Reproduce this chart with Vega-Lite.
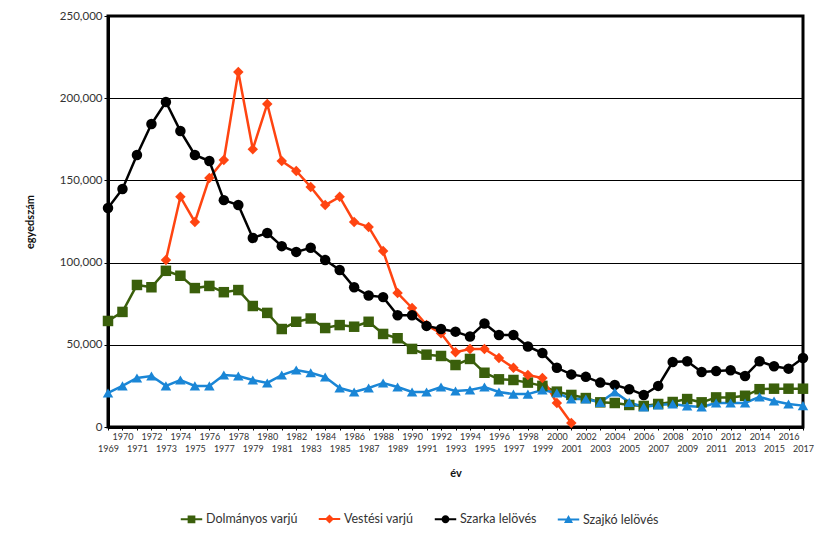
{
  "$schema": "https://vega.github.io/schema/vega-lite/v6.json",
  "width": 695,
  "height": 411,
  "autosize": {"type": "none"},
  "padding": {"left": 108, "top": 16, "right": 18, "bottom": 106},
  "background": "white",
  "config": {
    "view": {"stroke": "black", "strokeWidth": 3},
    "font": "Lato",
    "axis": {"labelFont": "Lato", "titleFont": "Lato", "labelColor": "#333333", "titleColor": "#111111"}
  },
  "data": {"values": [
    {"year":1969,"series":"Dolmányos varjú","value":64500},
    {"year":1970,"series":"Dolmányos varjú","value":70000},
    {"year":1971,"series":"Dolmányos varjú","value":86400},
    {"year":1972,"series":"Dolmányos varjú","value":85000},
    {"year":1973,"series":"Dolmányos varjú","value":95000},
    {"year":1974,"series":"Dolmányos varjú","value":92000},
    {"year":1975,"series":"Dolmányos varjú","value":84500},
    {"year":1976,"series":"Dolmányos varjú","value":85800},
    {"year":1977,"series":"Dolmányos varjú","value":82000},
    {"year":1978,"series":"Dolmányos varjú","value":83300},
    {"year":1979,"series":"Dolmányos varjú","value":73600},
    {"year":1980,"series":"Dolmányos varjú","value":69400},
    {"year":1981,"series":"Dolmányos varjú","value":59600},
    {"year":1982,"series":"Dolmányos varjú","value":64000},
    {"year":1983,"series":"Dolmányos varjú","value":66000},
    {"year":1984,"series":"Dolmányos varjú","value":60200},
    {"year":1985,"series":"Dolmányos varjú","value":62000},
    {"year":1986,"series":"Dolmányos varjú","value":61000},
    {"year":1987,"series":"Dolmányos varjú","value":64000},
    {"year":1988,"series":"Dolmányos varjú","value":56600},
    {"year":1989,"series":"Dolmányos varjú","value":54000},
    {"year":1990,"series":"Dolmányos varjú","value":47500},
    {"year":1991,"series":"Dolmányos varjú","value":44000},
    {"year":1992,"series":"Dolmányos varjú","value":43200},
    {"year":1993,"series":"Dolmányos varjú","value":37700},
    {"year":1994,"series":"Dolmányos varjú","value":41400},
    {"year":1995,"series":"Dolmányos varjú","value":33000},
    {"year":1996,"series":"Dolmányos varjú","value":29000},
    {"year":1997,"series":"Dolmányos varjú","value":28600},
    {"year":1998,"series":"Dolmányos varjú","value":27000},
    {"year":1999,"series":"Dolmányos varjú","value":25000},
    {"year":2000,"series":"Dolmányos varjú","value":21500},
    {"year":2001,"series":"Dolmányos varjú","value":19500},
    {"year":2002,"series":"Dolmányos varjú","value":17600},
    {"year":2003,"series":"Dolmányos varjú","value":15000},
    {"year":2004,"series":"Dolmányos varjú","value":14600},
    {"year":2005,"series":"Dolmányos varjú","value":13400},
    {"year":2006,"series":"Dolmányos varjú","value":12800},
    {"year":2007,"series":"Dolmányos varjú","value":14000},
    {"year":2008,"series":"Dolmányos varjú","value":15200},
    {"year":2009,"series":"Dolmányos varjú","value":17000},
    {"year":2010,"series":"Dolmányos varjú","value":15000},
    {"year":2011,"series":"Dolmányos varjú","value":18000},
    {"year":2012,"series":"Dolmányos varjú","value":18000},
    {"year":2013,"series":"Dolmányos varjú","value":19000},
    {"year":2014,"series":"Dolmányos varjú","value":23000},
    {"year":2015,"series":"Dolmányos varjú","value":23300},
    {"year":2016,"series":"Dolmányos varjú","value":23300},
    {"year":2017,"series":"Dolmányos varjú","value":23300},
    {"year":1973,"series":"Vestési varjú","value":101600},
    {"year":1974,"series":"Vestési varjú","value":140000},
    {"year":1975,"series":"Vestési varjú","value":124700},
    {"year":1976,"series":"Vestési varjú","value":151500},
    {"year":1977,"series":"Vestési varjú","value":162400},
    {"year":1978,"series":"Vestési varjú","value":216000},
    {"year":1979,"series":"Vestési varjú","value":169000},
    {"year":1980,"series":"Vestési varjú","value":196500},
    {"year":1981,"series":"Vestési varjú","value":161800},
    {"year":1982,"series":"Vestési varjú","value":155700},
    {"year":1983,"series":"Vestési varjú","value":146000},
    {"year":1984,"series":"Vestési varjú","value":135000},
    {"year":1985,"series":"Vestési varjú","value":140000},
    {"year":1986,"series":"Vestési varjú","value":124700},
    {"year":1987,"series":"Vestési varjú","value":121700},
    {"year":1988,"series":"Vestési varjú","value":107000},
    {"year":1989,"series":"Vestési varjú","value":81500},
    {"year":1990,"series":"Vestési varjú","value":72400},
    {"year":1991,"series":"Vestési varjú","value":62000},
    {"year":1992,"series":"Vestési varjú","value":57000},
    {"year":1993,"series":"Vestési varjú","value":45500},
    {"year":1994,"series":"Vestési varjú","value":47500},
    {"year":1995,"series":"Vestési varjú","value":47500},
    {"year":1996,"series":"Vestési varjú","value":42000},
    {"year":1997,"series":"Vestési varjú","value":36000},
    {"year":1998,"series":"Vestési varjú","value":31600},
    {"year":1999,"series":"Vestési varjú","value":29800},
    {"year":2000,"series":"Vestési varjú","value":14600},
    {"year":2001,"series":"Vestési varjú","value":2500},
    {"year":1969,"series":"Szarka lelövés","value":133200},
    {"year":1970,"series":"Szarka lelövés","value":144800},
    {"year":1971,"series":"Szarka lelövés","value":165500},
    {"year":1972,"series":"Szarka lelövés","value":184300},
    {"year":1973,"series":"Szarka lelövés","value":197700},
    {"year":1974,"series":"Szarka lelövés","value":180000},
    {"year":1975,"series":"Szarka lelövés","value":165500},
    {"year":1976,"series":"Szarka lelövés","value":161800},
    {"year":1977,"series":"Szarka lelövés","value":138000},
    {"year":1978,"series":"Szarka lelövés","value":135000},
    {"year":1979,"series":"Szarka lelövés","value":115000},
    {"year":1980,"series":"Szarka lelövés","value":118000},
    {"year":1981,"series":"Szarka lelövés","value":110000},
    {"year":1982,"series":"Szarka lelövés","value":106500},
    {"year":1983,"series":"Szarka lelövés","value":109000},
    {"year":1984,"series":"Szarka lelövés","value":101600},
    {"year":1985,"series":"Szarka lelövés","value":95500},
    {"year":1986,"series":"Szarka lelövés","value":85000},
    {"year":1987,"series":"Szarka lelövés","value":80000},
    {"year":1988,"series":"Szarka lelövés","value":79000},
    {"year":1989,"series":"Szarka lelövés","value":68000},
    {"year":1990,"series":"Szarka lelövés","value":68000},
    {"year":1991,"series":"Szarka lelövés","value":61500},
    {"year":1992,"series":"Szarka lelövés","value":59600},
    {"year":1993,"series":"Szarka lelövés","value":58000},
    {"year":1994,"series":"Szarka lelövés","value":55000},
    {"year":1995,"series":"Szarka lelövés","value":63000},
    {"year":1996,"series":"Szarka lelövés","value":56000},
    {"year":1997,"series":"Szarka lelövés","value":56000},
    {"year":1998,"series":"Szarka lelövés","value":49000},
    {"year":1999,"series":"Szarka lelövés","value":45000},
    {"year":2000,"series":"Szarka lelövés","value":36000},
    {"year":2001,"series":"Szarka lelövés","value":32000},
    {"year":2002,"series":"Szarka lelövés","value":30500},
    {"year":2003,"series":"Szarka lelövés","value":27000},
    {"year":2004,"series":"Szarka lelövés","value":25600},
    {"year":2005,"series":"Szarka lelövés","value":23000},
    {"year":2006,"series":"Szarka lelövés","value":19500},
    {"year":2007,"series":"Szarka lelövés","value":25000},
    {"year":2008,"series":"Szarka lelövés","value":39500},
    {"year":2009,"series":"Szarka lelövés","value":40000},
    {"year":2010,"series":"Szarka lelövés","value":33500},
    {"year":2011,"series":"Szarka lelövés","value":34000},
    {"year":2012,"series":"Szarka lelövés","value":34500},
    {"year":2013,"series":"Szarka lelövés","value":31000},
    {"year":2014,"series":"Szarka lelövés","value":40000},
    {"year":2015,"series":"Szarka lelövés","value":37000},
    {"year":2016,"series":"Szarka lelövés","value":35500},
    {"year":2017,"series":"Szarka lelövés","value":42000},
    {"year":1969,"series":"Szajkó lelövés","value":20700},
    {"year":1970,"series":"Szajkó lelövés","value":25000},
    {"year":1971,"series":"Szajkó lelövés","value":29800},
    {"year":1972,"series":"Szajkó lelövés","value":31000},
    {"year":1973,"series":"Szajkó lelövés","value":25000},
    {"year":1974,"series":"Szajkó lelövés","value":28600},
    {"year":1975,"series":"Szajkó lelövés","value":25000},
    {"year":1976,"series":"Szajkó lelövés","value":25000},
    {"year":1977,"series":"Szajkó lelövés","value":31600},
    {"year":1978,"series":"Szajkó lelövés","value":31000},
    {"year":1979,"series":"Szajkó lelövés","value":28600},
    {"year":1980,"series":"Szajkó lelövés","value":26800},
    {"year":1981,"series":"Szajkó lelövés","value":31600},
    {"year":1982,"series":"Szajkó lelövés","value":34700},
    {"year":1983,"series":"Szajkó lelövés","value":33000},
    {"year":1984,"series":"Szajkó lelövés","value":30400},
    {"year":1985,"series":"Szajkó lelövés","value":23700},
    {"year":1986,"series":"Szajkó lelövés","value":21300},
    {"year":1987,"series":"Szajkó lelövés","value":23700},
    {"year":1988,"series":"Szajkó lelövés","value":26800},
    {"year":1989,"series":"Szajkó lelövés","value":24300},
    {"year":1990,"series":"Szajkó lelövés","value":21300},
    {"year":1991,"series":"Szajkó lelövés","value":21300},
    {"year":1992,"series":"Szajkó lelövés","value":24300},
    {"year":1993,"series":"Szajkó lelövés","value":21900},
    {"year":1994,"series":"Szajkó lelövés","value":22500},
    {"year":1995,"series":"Szajkó lelövés","value":24300},
    {"year":1996,"series":"Szajkó lelövés","value":21300},
    {"year":1997,"series":"Szajkó lelövés","value":20000},
    {"year":1998,"series":"Szajkó lelövés","value":20000},
    {"year":1999,"series":"Szajkó lelövés","value":22500},
    {"year":2000,"series":"Szajkó lelövés","value":20700},
    {"year":2001,"series":"Szajkó lelövés","value":17000},
    {"year":2002,"series":"Szajkó lelövés","value":17000},
    {"year":2003,"series":"Szajkó lelövés","value":15000},
    {"year":2004,"series":"Szajkó lelövés","value":21300},
    {"year":2005,"series":"Szajkó lelövés","value":15000},
    {"year":2006,"series":"Szajkó lelövés","value":12200},
    {"year":2007,"series":"Szajkó lelövés","value":13400},
    {"year":2008,"series":"Szajkó lelövés","value":14000},
    {"year":2009,"series":"Szajkó lelövés","value":12800},
    {"year":2010,"series":"Szajkó lelövés","value":12200},
    {"year":2011,"series":"Szajkó lelövés","value":14600},
    {"year":2012,"series":"Szajkó lelövés","value":14600},
    {"year":2013,"series":"Szajkó lelövés","value":14600},
    {"year":2014,"series":"Szajkó lelövés","value":18300},
    {"year":2015,"series":"Szajkó lelövés","value":15800},
    {"year":2016,"series":"Szajkó lelövés","value":14000},
    {"year":2017,"series":"Szajkó lelövés","value":13000}
  ]},
  "encoding": {
    "x": {
      "field": "year", "type": "quantitative",
      "scale": {"domain": [1969, 2017], "nice": false, "zero": false},
      "axis": {
        "title": "év", "titleFontSize": 11, "titleFontWeight": "bold", "titlePadding": 14,
        "values": [1969,1970,1971,1972,1973,1974,1975,1976,1977,1978,1979,1980,1981,1982,1983,1984,1985,1986,1987,1988,1989,1990,1991,1992,1993,1994,1995,1996,1997,1998,1999,2000,2001,2002,2003,2004,2005,2006,2007,2008,2009,2010,2011,2012,2013,2014,2015,2016,2017],
        "format": "d",
        "labelExpr": "datum.value % 2 == 0 ? datum.label : ['', datum.label]",
        "labelFontSize": 9, "labelLineHeight": 12, "labelOverlap": false, "labelFlush": false, "labelPadding": 2,
        "tickSize": 3, "tickColor": "black", "tickWidth": 1,
        "domainColor": "black", "domainWidth": 3, "grid": false
      }
    },
    "y": {
      "field": "value", "type": "quantitative",
      "scale": {"domain": [0, 250000], "nice": false},
      "axis": {
        "title": "egyedszám", "titleFontSize": 11, "titleFontWeight": "bold", "titlePadding": 24,
        "values": [0, 50000, 100000, 150000, 200000, 250000],
        "labelExpr": "format(datum.value, ',')",
        "labelFontSize": 11.5, "labelPadding": 2,
        "tickSize": 4, "tickColor": "black", "tickWidth": 1,
        "domainColor": "black", "domainWidth": 3,
        "grid": true, "gridColor": "black", "gridWidth": 1
      }
    },
    "color": {
      "field": "series", "type": "nominal",
      "scale": {"domain": ["Dolmányos varjú", "Vestési varjú", "Szarka lelövés", "Szajkó lelövés"], "range": ["#3a5f0b", "#ff4411", "#000000", "#1a86d6"]},
      "legend": null
    }
  },
  "resolve": {"scale": {"shape": "independent", "color": "independent"}},
  "layer": [
    {
      "mark": {"type": "line", "strokeWidth": 2.5},
      "encoding": {}
    },
    {
      "mark": {"type": "point", "filled": true, "opacity": 1},
      "encoding": {
        "shape": {
          "field": "series", "type": "nominal",
          "scale": {"domain": ["Dolmányos varjú", "Vestési varjú", "Szarka lelövés", "Szajkó lelövés"], "range": ["square", "diamond", "circle", "triangle-up"]},
          "legend": null
        },
        "size": {"value": 110}
      }
    },
    {
      "mark": {"type": "point", "filled": true, "opacity": 0},
      "encoding": {
        "color": {
          "field": "series", "type": "nominal",
          "scale": {"domain": ["Dolmányos varjú", "Vestési varjú", "Szarka lelövés", "Szajkó lelövés"], "range": ["#3a5f0b", "#ff4411", "#000000", "#1a86d6"]},
          "legend": {
            "title": null, "orient": "none", "direction": "horizontal", "legendX": 72, "legendY": 491,
            "labelFontSize": 12.5, "labelColor": "#333333", "labelFont": "Lato", "symbolSize": 460,
            "symbolOpacity": 1, "columnPadding": 17, "labelOffset": 3
          }
        },
        "shape": {
          "field": "series", "type": "nominal",
          "scale": {"domain": ["Dolmányos varjú", "Vestési varjú", "Szarka lelövés", "Szajkó lelövés"], "range": [
            "M-1,-0.09H1V0.09H-1Z M-0.36,-0.36H0.36V0.36H-0.36Z",
            "M-1,-0.09H1V0.09H-1Z M0,-0.42L0.42,0L0,0.42L-0.42,0Z",
            "M-1,-0.09H1V0.09H-1Z M-0.37,0A0.37,0.37 0 1,1 0.37,0A0.37,0.37 0 1,1 -0.37,0Z",
            "M-1,-0.09H1V0.09H-1Z M0,-0.42L0.42,0.32L-0.42,0.32Z"
          ]},
          "legend": {
            "title": null, "orient": "none", "direction": "horizontal", "legendX": 72, "legendY": 491,
            "labelFontSize": 12.5, "labelColor": "#333333", "labelFont": "Lato", "symbolSize": 460,
            "symbolOpacity": 1, "columnPadding": 17, "labelOffset": 3
          }
        }
      }
    }
  ]
}
